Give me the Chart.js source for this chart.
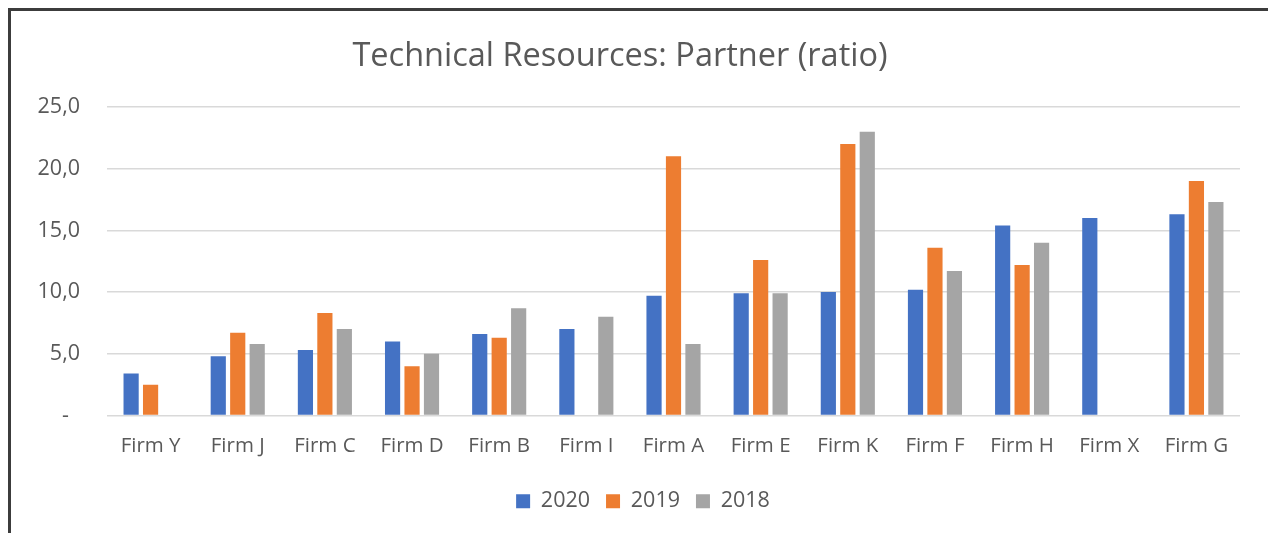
<!DOCTYPE html>
<html>
<head>
<meta charset="utf-8">
<script src="https://cdn.jsdelivr.net/npm/chart.js@4.4.1/dist/chart.umd.min.js"></script>
<style>
  html, body { margin: 0; padding: 0; background: #fff; }
  #wrap { position: relative; width: 1268px; height: 533px; overflow: hidden; }
  #frame { position: absolute; left: 8px; top: 8px; width: 1258px; height: 600px;
           border-top: 3px solid #3c3c3c; border-left: 3px solid #3c3c3c;
           border-right: 1px solid #e0e0e0; pointer-events: none; }
  canvas { position: absolute; left: 0; top: 0; }
</style>
</head>
<body>
<div id="wrap">
  <canvas id="c" width="1268" height="533"></canvas>
  <div id="frame"></div>
</div>
<script>
const categories = ['Firm Y','Firm J','Firm C','Firm D','Firm B','Firm I','Firm A','Firm E','Firm K','Firm F','Firm H','Firm X','Firm G'];
const values2020 = [3.4, 4.8, 5.3, 6.0, 6.6, 7.0, 9.7, 9.9, 10.0, 10.2, 15.4, 16.0, 16.3];
const values2019 = [2.5, 6.7, 8.3, 4.0, 6.3, null, 21.0, 12.6, 22.0, 13.6, 12.2, null, 19.0];
const values2018 = [null, 5.8, 7.0, 5.0, 8.7, 8.0, 5.8, 9.9, 23.0, 11.7, 14.0, null, 17.3];
const yTicks = [0, 5, 10, 15, 20, 25];

const FONT = 'Open Sans';
const TXT = '#595959';

const shiftLegend = {
  id: 'shiftLegend',
  afterLayout(chart) {
    if (chart.legend) { chart.legend.left += 23; chart.legend.right += 23; }
  }
};

new Chart(document.getElementById('c'), {
  type: 'bar',
  data: {
    labels: categories,
    datasets: [
      { label: '2020', data: values2020, backgroundColor: '#4472C4' },
      { label: '2019', data: values2019, backgroundColor: '#ED7D31' },
      { label: '2018', data: values2018, backgroundColor: '#A5A5A5' }
    ]
  },
  plugins: [shiftLegend],
  options: {
    responsive: false,
    animation: false,
    devicePixelRatio: 1,
    datasets: { bar: { categoryPercentage: 0.67, barPercentage: 0.78 } },
    layout: { padding: { left: 0, right: 28, top: 0, bottom: 11 } },
    plugins: {
      title: {
        display: true,
        text: 'Technical Resources: Partner (ratio)',
        color: TXT,
        font: { family: FONT, size: 32.5, weight: 'normal' },
        padding: { top: 37, bottom: 31 }
      },
      legend: {
        display: true,
        position: 'bottom',
        labels: {
          color: TXT,
          font: { family: FONT, size: 21.5 },
          boxWidth: 14, boxHeight: 14,
          padding: 16
        }
      },
      tooltip: { enabled: false }
    },
    scales: {
      x: {
        grid: { display: false, drawTicks: false },
        border: { display: false },
        ticks: { color: TXT, font: { family: FONT, size: 20.5 }, padding: 18, maxRotation: 0 },
        afterFit: (axis) => { axis.height = 59; }
      },
      y: {
        min: 0, max: 25,
        afterBuildTicks: (axis) => { axis.ticks = yTicks.map(v => ({ value: v })); },
        grid: { color: '#d9d9d9', lineWidth: 1.5, drawTicks: false },
        border: { display: false },
        ticks: {
          color: TXT, font: { family: FONT, size: 21.5 }, padding: 27,
          callback: (v) => v === 0 ? '-  ' : v.toFixed(1).replace('.', ',')
        },
        afterFit: (axis) => { axis.width = 107; }
      }
    }
  }
});
</script>
</body>
</html>
